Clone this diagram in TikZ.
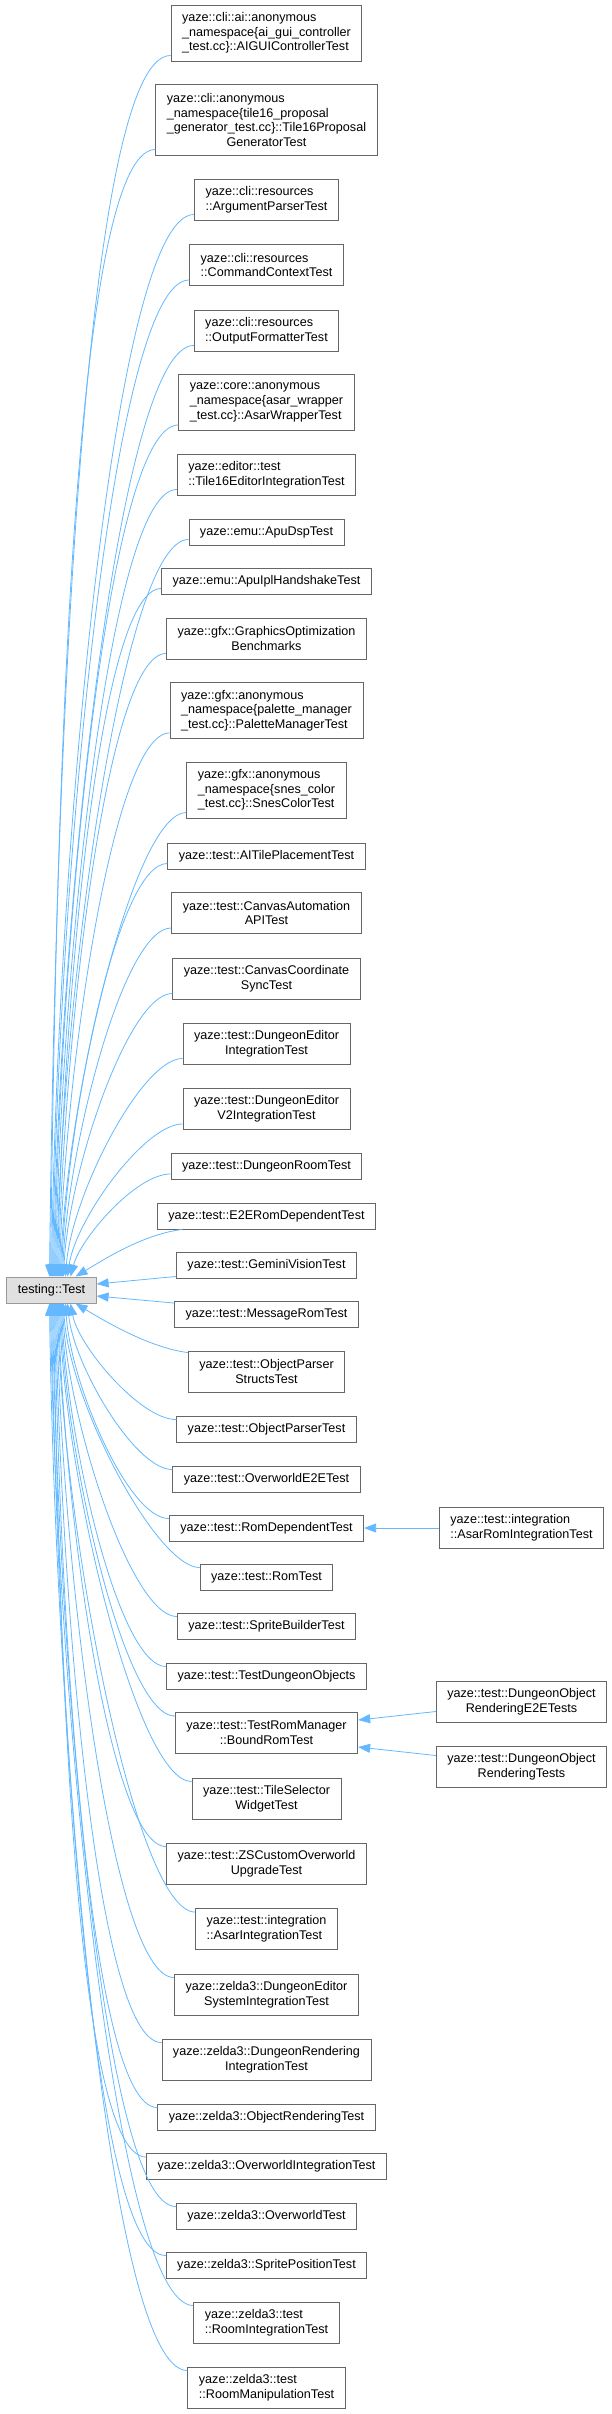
\documentclass[tikz,border=0pt]{standalone}
\usepackage{fontspec}
\setmainfont{Liberation Sans}
\usetikzlibrary{arrows.meta}
\definecolor{edgeblue}{HTML}{63B8FF}
\definecolor{nodegray}{HTML}{666666}
\definecolor{basegray}{HTML}{999999}
\definecolor{basefill}{HTML}{E0E0E0}
\newcommand{\boxfont}{\fontsize{12.6pt}{14.7pt}\selectfont}

\begin{document}
\begin{tikzpicture}[x=1pt, y=-1pt,
    cls/.style={rectangle, draw=nodegray, fill=white, line width=0.9pt, minimum height=#1, inner xsep=11pt, inner ysep=1pt, font=\boxfont, align=center},
    cls/.default=26pt,
    base/.style={cls, draw=basegray, fill=basefill},
    edge/.style={-{Triangle[length=12pt, width=9pt]}, edgeblue, line width=0.8pt}
]
\useasboundingbox (0,0) rectangle (612,2414);
\node[base] (test) at (51.5,1290) {testing::Test};

\node[cls=56pt, align=left] (aigui) at (266.5,33) {yaze::cli::ai::anonymous\\\_namespace\{ai\_gui\_controller\\\_test.cc\}::AIGUIControllerTest};
\node[cls=71pt] (proposal) at (266.5,119.5) {\begin{tabular}[b]{@{}l@{}}yaze::cli::anonymous\\\_namespace\{tile16\_proposal\\\_generator\_test.cc\}::Tile16Proposal\end{tabular}\\GeneratorTest};
\node[cls=41pt, align=left] (argparser) at (266.5,199.5) {yaze::cli::resources\\::ArgumentParserTest};
\node[cls=41pt, align=left] (cmdctx) at (266.5,265) {yaze::cli::resources\\::CommandContextTest};
\node[cls=41pt, align=left] (outfmt) at (266.5,330.5) {yaze::cli::resources\\::OutputFormatterTest};
\node[cls=56pt, align=left] (asarwrap) at (266.5,402.5) {yaze::core::anonymous\\\_namespace\{asar\_wrapper\\\_test.cc\}::AsarWrapperTest};
\node[cls=41pt, align=left] (tileedit) at (266.5,474.5) {yaze::editor::test\\::Tile16EditorIntegrationTest};
\node[cls] (apudsp) at (266.5,532) {yaze::emu::ApuDspTest};
\node[cls] (apuipl) at (266.5,581) {yaze::emu::ApuIplHandshakeTest};
\node[cls=41pt] (gfxopt) at (266.5,638.5) {yaze::gfx::GraphicsOptimization\\Benchmarks};
\node[cls=56pt, align=left] (palette) at (266.5,710.5) {yaze::gfx::anonymous\\\_namespace\{palette\_manager\\\_test.cc\}::PaletteManagerTest};
\node[cls=56pt, align=left] (snescolor) at (266.5,790) {yaze::gfx::anonymous\\\_namespace\{snes\_color\\\_test.cc\}::SnesColorTest};
\node[cls] (aitile) at (266.5,856) {yaze::test::AITilePlacementTest};
\node[cls=41pt] (canvasauto) at (266.5,913) {yaze::test::CanvasAutomation\\APITest};
\node[cls=41pt] (canvassync) at (266.5,978.5) {yaze::test::CanvasCoordinate\\SyncTest};
\node[cls=41pt] (dungeonedit) at (266.5,1043.5) {yaze::test::DungeonEditor\\IntegrationTest};
\node[cls=41pt] (dungeonv2) at (266.5,1109) {yaze::test::DungeonEditor\\V2IntegrationTest};
\node[cls] (dungeonroom) at (266.5,1166.5) {yaze::test::DungeonRoomTest};
\node[cls] (e2erom) at (266.5,1216) {yaze::test::E2ERomDependentTest};
\node[cls] (gemini) at (266.5,1265) {yaze::test::GeminiVisionTest};
\node[cls] (msgrom) at (266.5,1314.5) {yaze::test::MessageRomTest};
\node[cls=41pt] (parserstructs) at (266.5,1371.5) {yaze::test::ObjectParser\\StructsTest};
\node[cls] (parser) at (266.5,1429) {yaze::test::ObjectParserTest};
\node[cls] (owe2e) at (266.5,1479) {yaze::test::OverworldE2ETest};
\node[cls] (romdep) at (266.5,1528) {yaze::test::RomDependentTest};
\node[cls] (romtest) at (266.5,1577) {yaze::test::RomTest};
\node[cls] (spritebuild) at (266.5,1626) {yaze::test::SpriteBuilderTest};
\node[cls] (dungeonobj) at (266.5,1676) {yaze::test::TestDungeonObjects};
\node[cls=41pt] (boundrom) at (266.5,1733) {yaze::test::TestRomManager\\::BoundRomTest};
\node[cls=41pt] (tilesel) at (266.5,1798.5) {yaze::test::TileSelector\\WidgetTest};
\node[cls=41pt] (zscustom) at (266.5,1863.5) {yaze::test::ZSCustomOverworld\\UpgradeTest};
\node[cls=41pt, align=left] (asarint) at (266.5,1929) {yaze::test::integration\\::AsarIntegrationTest};
\node[cls=41pt] (dungeonsys) at (266.5,1994.5) {yaze::zelda3::DungeonEditor\\SystemIntegrationTest};
\node[cls=41pt] (dungeonrender) at (266.5,2059.5) {yaze::zelda3::DungeonRendering\\IntegrationTest};
\node[cls] (objrender) at (266.5,2117) {yaze::zelda3::ObjectRenderingTest};
\node[cls] (owint) at (266.5,2166.5) {yaze::zelda3::OverworldIntegrationTest};
\node[cls] (owtest) at (266.5,2216) {yaze::zelda3::OverworldTest};
\node[cls] (spritepos) at (266.5,2265) {yaze::zelda3::SpritePositionTest};
\node[cls=41pt, align=left] (roomint) at (266.5,2322.5) {yaze::zelda3::test\\::RoomIntegrationTest};
\node[cls=41pt, align=left] (roommanip) at (266.5,2387.5) {yaze::zelda3::test\\::RoomManipulationTest};

\node[cls=41pt, align=left] (asarromint) at (521.5,1528) {yaze::test::integration\\::AsarRomIntegrationTest};
\node[cls=41pt] (objrendere2e) at (521.5,1701.5) {yaze::test::DungeonObject\\RenderingE2ETests};
\node[cls=41pt] (objrendertests) at (521.5,1766.5) {yaze::test::DungeonObject\\RenderingTests};

\draw[edge] ([yshift=6pt]aigui.south west) .. controls +(-91,0) and +(5,-452) .. ([xshift=-2pt]test.north);
\draw[edge] ([yshift=6pt]proposal.south west) .. controls +(-86,0) and +(5,-417) .. ([xshift=-1pt]test.north);
\draw[edge] ([yshift=6pt]argparser.south west) .. controls +(-83,0) and +(5,-393) .. (test.north);
\draw[edge] ([yshift=6pt]cmdctx.south west) .. controls +(-80,0) and +(5,-369) .. ([xshift=1pt]test.north);
\draw[edge] ([yshift=6pt]outfmt.south west) .. controls +(-77,0) and +(5,-345) .. ([xshift=2pt]test.north);
\draw[edge] ([yshift=6pt]asarwrap.south west) .. controls +(-73,0) and +(5,-316) .. ([xshift=3pt]test.north);
\draw[edge] ([yshift=6pt]tileedit.south west) .. controls +(-69,0) and +(5,-292) .. ([xshift=4pt]test.north);
\draw[edge] ([yshift=6pt]apudsp.south west) .. controls +(-67,0) and +(5,-273) .. ([xshift=5pt]test.north);
\draw[edge] ([yshift=6pt]apuipl.south west) .. controls +(-64,0) and +(5,-255) .. ([xshift=6pt]test.north);
\draw[edge] ([yshift=6pt]gfxopt.south west) .. controls +(-61,0) and +(5,-231) .. ([xshift=7pt]test.north);
\draw[edge] ([yshift=6pt]palette.south west) .. controls +(-57,0) and +(5,-202) .. ([xshift=8pt]test.north);
\draw[edge] ([yshift=6pt]snescolor.south west) .. controls +(-53,0) and +(5,-172) .. ([xshift=9pt]test.north);
\draw[edge] ([yshift=6pt]aitile.south west) .. controls +(-51,0) and +(5,-153) .. ([xshift=10pt]test.north);
\draw[edge] ([yshift=6pt]canvasauto.south west) .. controls +(-48,0) and +(5,-130) .. ([xshift=11pt]test.north);
\draw[edge] ([yshift=6pt]canvassync.south west) .. controls +(-44,0) and +(5,-105) .. ([xshift=12pt]test.north);
\draw[edge] ([yshift=6pt]dungeonedit.south west) .. controls +(-41,0) and +(6,-81) .. ([xshift=14pt]test.north);
\draw[edge] ([yshift=6pt]dungeonv2.south west) .. controls +(-38,0) and +(8,-57) .. ([xshift=16pt]test.north);
\draw[edge] ([yshift=6pt]dungeonroom.south west) .. controls +(-35,0) and +(10,-38) .. ([xshift=19pt]test.north);
\draw[edge] ([xshift=25pt]e2erom.south west) .. controls +(-40,5) and +(25,-15) .. ([xshift=24pt]test.north);
\draw[edge] ([yshift=2pt]gemini.south west) -- ([yshift=6pt]test.east);
\draw[edge] ([yshift=-2pt]msgrom.north west) -- ([yshift=-6pt]test.east);
\draw[edge] ([yshift=-2pt]parserstructs.north west) .. controls +(-40,-5) and +(25,15) .. ([xshift=24pt]test.south);
\draw[edge] ([yshift=-4pt]parser.north west) .. controls +(-36,0) and +(8,43) .. ([xshift=19pt]test.south);
\draw[edge] ([yshift=-4pt]owe2e.north west) .. controls +(-38,0) and +(6,61) .. ([xshift=16pt]test.south);
\draw[edge] ([yshift=-4pt]romdep.north west) .. controls +(-41,0) and +(5,80) .. ([xshift=14pt]test.south);
\draw[edge] ([yshift=-4pt]romtest.north west) .. controls +(-43,0) and +(5,98) .. ([xshift=12pt]test.south);
\draw[edge] ([yshift=-4pt]spritebuild.north west) .. controls +(-46,0) and +(5,116) .. ([xshift=11pt]test.south);
\draw[edge] ([yshift=-4pt]dungeonobj.north west) .. controls +(-48,0) and +(5,135) .. ([xshift=10pt]test.south);
\draw[edge] ([yshift=-4pt]boundrom.north west) .. controls +(-51,0) and +(5,153) .. ([xshift=9pt]test.south);
\draw[edge] ([yshift=-4pt]tilesel.north west) .. controls +(-54,0) and +(5,177) .. ([xshift=8pt]test.south);
\draw[edge] ([yshift=-4pt]zscustom.north west) .. controls +(-57,0) and +(5,201) .. ([xshift=7pt]test.south);
\draw[edge] ([yshift=-4pt]asarint.north west) .. controls +(-60,0) and +(5,226) .. ([xshift=6pt]test.south);
\draw[edge] ([yshift=-4pt]dungeonsys.north west) .. controls +(-64,0) and +(5,250) .. ([xshift=5pt]test.south);
\draw[edge] ([yshift=-4pt]dungeonrender.north west) .. controls +(-67,0) and +(5,274) .. ([xshift=4pt]test.south);
\draw[edge] ([yshift=-4pt]objrender.north west) .. controls +(-70,0) and +(5,298) .. ([xshift=3pt]test.south);
\draw[edge] ([yshift=-4pt]owint.north west) .. controls +(-73,0) and +(5,316) .. ([xshift=2pt]test.south);
\draw[edge] ([yshift=-4pt]owtest.north west) .. controls +(-75,0) and +(5,334) .. ([xshift=1pt]test.south);
\draw[edge] ([yshift=-4pt]spritepos.north west) .. controls +(-78,0) and +(5,353) .. (test.south);
\draw[edge] ([yshift=-4pt]roomint.north west) .. controls +(-80,0) and +(5,371) .. ([xshift=-1pt]test.south);
\draw[edge] ([yshift=-4pt]roommanip.north west) .. controls +(-83,0) and +(5,395) .. ([xshift=-2pt]test.south);

\draw[edge] (asarromint) -- (romdep);
\draw[edge] ([yshift=-10pt]objrendere2e.west) -- ([yshift=13pt]boundrom.east);
\draw[edge] ([yshift=11pt]objrendertests.west) -- ([yshift=-14pt]boundrom.east);
\end{tikzpicture}
\end{document}
